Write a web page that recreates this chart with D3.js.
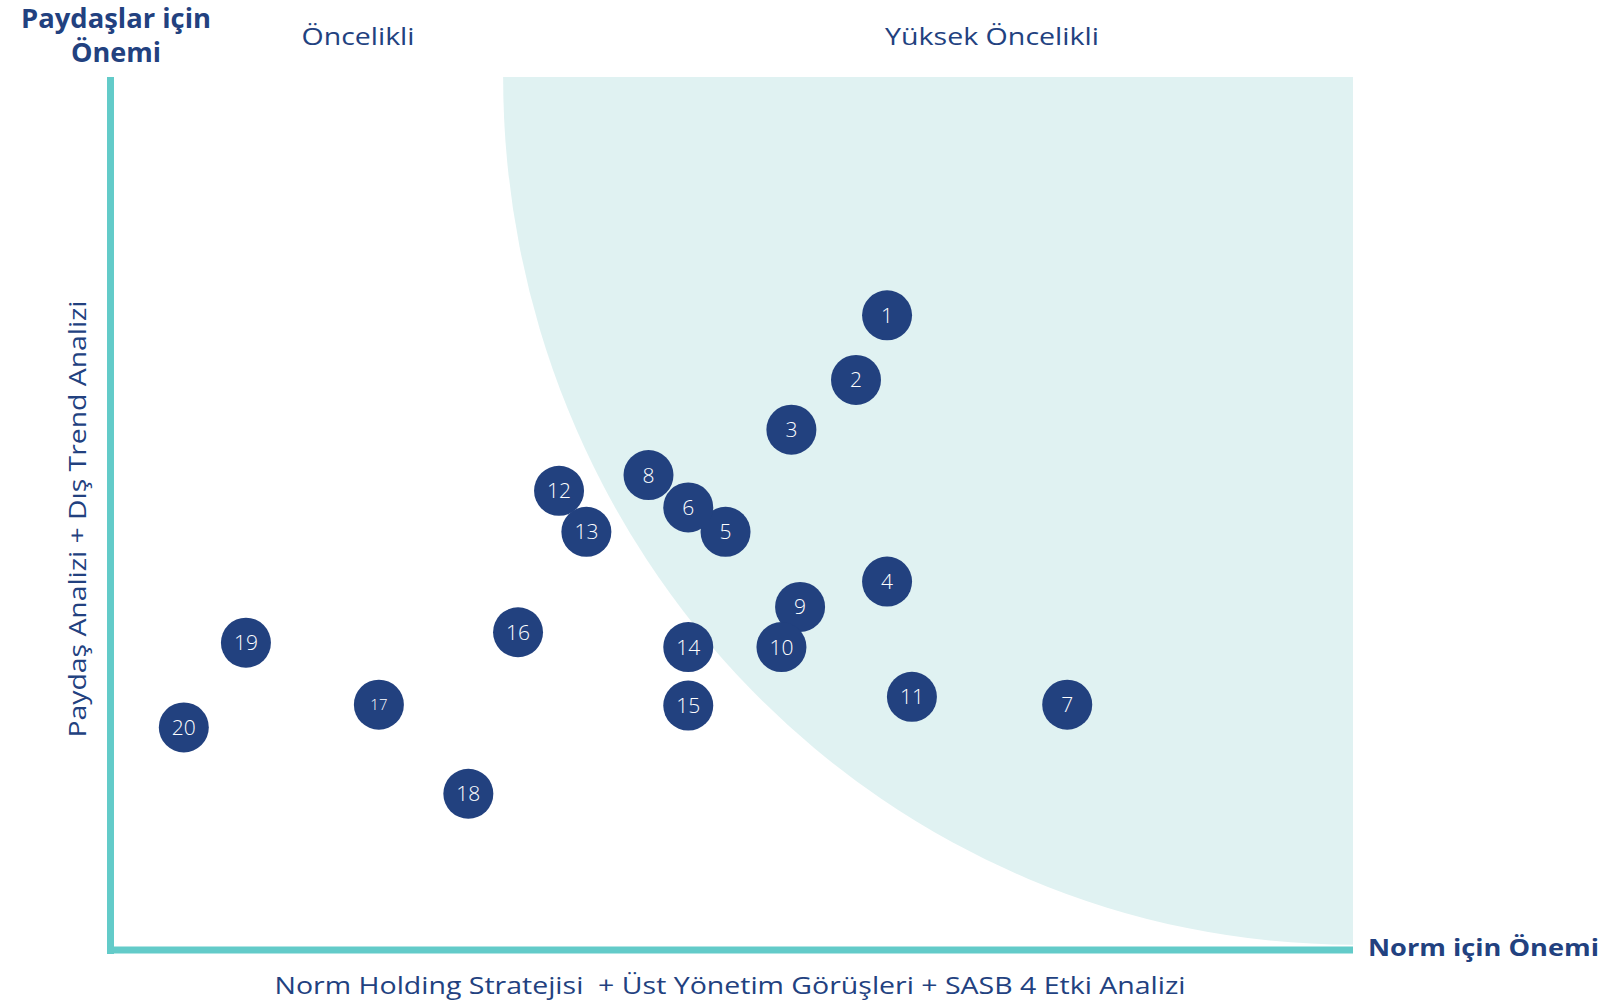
<!DOCTYPE html>
<html>
<head>
<meta charset="utf-8">
<script src="https://cdn.jsdelivr.net/npm/d3@7/dist/d3.min.js"></script>
<style>
  html, body { margin: 0; padding: 0; background: #fff; }
  svg { display: block; }
  text { font-family: "Open Sans", "Noto Sans", sans-serif; white-space: pre; }
</style>
</head>
<body>
<svg id="chart" width="1602" height="1003"></svg>
<script>
// ---- data ----
const ids = ["1","2","3","4","5","6","7","8","9","10","11","12","13","14","15","16","17","18","19","20"];
const normImportance = [6.25, 6.00, 5.48, 6.25, 4.95, 4.65, 7.70, 4.33, 5.55, 5.40, 6.45, 3.61, 3.83, 4.65, 4.65, 3.28, 2.16, 2.88, 1.09, 0.59];
const stakeholderImportance = [7.27, 6.53, 5.96, 4.22, 4.79, 5.07, 2.81, 5.44, 3.93, 3.47, 2.90, 5.26, 4.79, 3.47, 2.80, 3.64, 2.81, 1.79, 3.52, 2.55];
const zoneLabels = ["Öncelikli", "Yüksek Öncelikli"];
const axisTitles = ["Paydaşlar için", "Önemi", "Norm için Önemi"];
const axisDescriptions = ["Norm Holding Stratejisi  + Üst Yönetim Görüşleri + SASB 4 Etki Analizi", "Paydaş Analizi + Dış Trend Analizi"];
const highZoneStartX = 3.16;   // where the high-priority zone meets the top
const highZoneBottomY = 0.06;  // where it meets the right edge at the bottom

const navy = "#22417f";
const teal = "#63cbc9";
const shade = "#e0f2f2";

const svg = d3.select("#chart");
const x = d3.scaleLinear().domain([0, 10]).range([110.5, 1353]);
const y = d3.scaleLinear().domain([0, 10]).range([950, 77]);

// ---- high priority zone (quarter ellipse) ----
const cx = x(10), cy = y(10);
const rx = x(10) - x(highZoneStartX);
const ry = y(highZoneBottomY) - y(10);
svg.append("path")
  .attr("d", `M${x(highZoneStartX)},${y(10)} A${rx},${ry} 0 0 0 ${cx},${y(highZoneBottomY)} L${cx},${cy} Z`)
  .attr("fill", shade);

// ---- axes ----
svg.append("line")
  .attr("x1", x(0)).attr("x2", x(0))
  .attr("y1", y(10)).attr("y2", y(0) + 4)
  .attr("stroke", teal).attr("stroke-width", 7);
svg.append("line")
  .attr("x1", x(0) - 3.5).attr("x2", x(10))
  .attr("y1", y(0)).attr("y2", y(0))
  .attr("stroke", teal).attr("stroke-width", 7);

// ---- titles ----
svg.append("text").text(axisTitles[0])
  .attr("x", 116).attr("y", 28).attr("text-anchor", "middle")
  .attr("font-size", 26).attr("font-weight", 700).attr("fill", navy)
  .attr("textLength", 190).attr("lengthAdjust", "spacingAndGlyphs");
svg.append("text").text(axisTitles[1])
  .attr("x", 116).attr("y", 62).attr("text-anchor", "middle")
  .attr("font-size", 26).attr("font-weight", 700).attr("fill", navy)
  .attr("textLength", 90).attr("lengthAdjust", "spacingAndGlyphs");
svg.append("text").text(axisTitles[2])
  .attr("x", 1368).attr("y", 956)
  .attr("font-size", 23).attr("font-weight", 700).attr("fill", navy)
  .attr("textLength", 231).attr("lengthAdjust", "spacingAndGlyphs");

svg.append("text").text(zoneLabels[0])
  .attr("x", 358).attr("y", 45).attr("text-anchor", "middle")
  .attr("font-size", 24).attr("font-weight", 400).attr("fill", navy)
  .attr("textLength", 113).attr("lengthAdjust", "spacingAndGlyphs");
svg.append("text").text(zoneLabels[1])
  .attr("x", 992).attr("y", 45).attr("text-anchor", "middle")
  .attr("font-size", 24).attr("font-weight", 400).attr("fill", navy)
  .attr("textLength", 214).attr("lengthAdjust", "spacingAndGlyphs");

svg.append("text").text(axisDescriptions[0])
  .attr("x", 730).attr("y", 994).attr("text-anchor", "middle")
  .attr("xml:space", "preserve")
  .attr("font-size", 24).attr("font-weight", 400).attr("fill", navy)
  .attr("textLength", 911).attr("lengthAdjust", "spacingAndGlyphs");
svg.append("text").text(axisDescriptions[1])
  .attr("transform", "translate(86,519) rotate(-90)").attr("text-anchor", "middle")
  .attr("font-size", 24).attr("font-weight", 400).attr("fill", navy)
  .attr("textLength", 437).attr("lengthAdjust", "spacingAndGlyphs");

// ---- bubbles ----
const pts = ids.map((id, i) => ({ id, nx: normImportance[i], sy: stakeholderImportance[i] }));
const g = svg.append("g").selectAll("g").data(pts).join("g")
  .attr("transform", d => `translate(${x(d.nx)},${y(d.sy)})`);
g.append("circle").attr("r", 25).attr("fill", navy);
g.append("text").text(d => d.id)
  .attr("text-anchor", "middle").attr("dy", "0.36em")
  .attr("font-size", d => d.id === "17" ? 15 : 21)
  .attr("font-weight", 300).attr("fill", "#fff");
</script>
</body>
</html>
